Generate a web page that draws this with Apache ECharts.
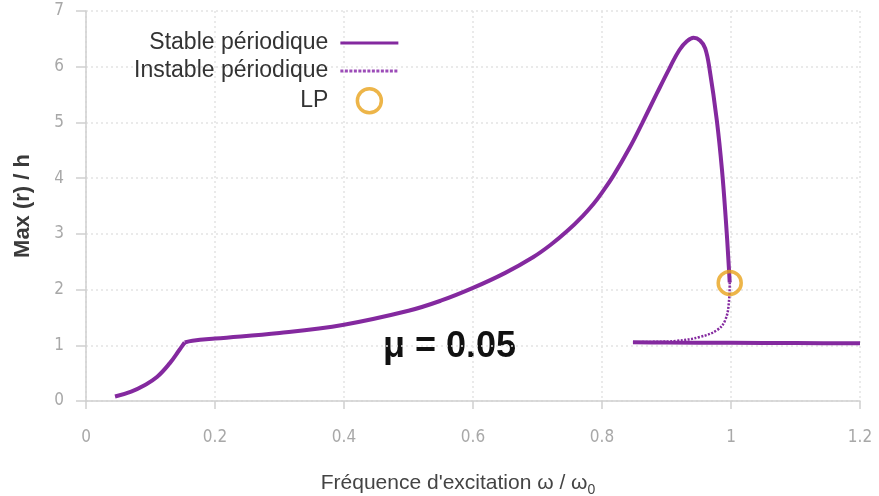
<!DOCTYPE html>
<html>
<head>
<meta charset="utf-8">
<script src="https://cdn.jsdelivr.net/npm/echarts@6/dist/echarts.min.js"></script>
<style>
  html, body { margin: 0; padding: 0; background: #fff; }
  #chart { width: 879px; height: 496px; }
</style>
</head>
<body>
<div id="chart"></div>
<script>
// Stable periodic branch, initial rise up to the kink
const stableRiseX = [0.045, 0.07, 0.09, 0.11, 0.13, 0.145, 0.153];
const stableRiseY = [0.08, 0.17, 0.28, 0.43, 0.68, 0.92, 1.05];

// Stable periodic branch, from the kink through the resonance peak to the fold
const stableUpperX = [0.153, 0.165, 0.2, 0.3, 0.4, 0.5, 0.55, 0.6, 0.65, 0.693, 0.72, 0.746, 0.77, 0.787, 0.8, 0.818, 0.843, 0.862, 0.885, 0.905, 0.92, 0.932, 0.942, 0.952, 0.96, 0.967, 0.978, 0.986, 0.992, 0.996, 0.998];
const stableUpperY = [1.05, 1.08, 1.12, 1.22, 1.37, 1.62, 1.8, 2.03, 2.3, 2.58, 2.8, 3.05, 3.32, 3.54, 3.74, 4.05, 4.55, 4.98, 5.52, 5.98, 6.3, 6.46, 6.52, 6.47, 6.33, 5.94, 5.04, 4.15, 3.25, 2.53, 2.13];

// Lower stable periodic branch
const stableLowerX = [0.848, 0.9, 1.0, 1.1, 1.2];
const stableLowerY = [1.055, 1.05, 1.045, 1.04, 1.035];

// Unstable periodic branch, from the limit point down to the lower branch
const unstableX = [0.998, 0.997, 0.991, 0.978, 0.952, 0.916, 0.874, 0.848];
const unstableY = [2.13, 1.81, 1.45, 1.27, 1.15, 1.08, 1.06, 1.055];

// Limit point (fold)
const lpX = [0.998];
const lpY = [2.12];

const xTicks = { min: 0, max: 1.2, interval: 0.2 };
const yTicks = { min: 0, max: 7, interval: 1 };

const muLabel = 'μ = 0.05';
const names = ['Stable périodique', 'Instable périodique', 'LP'];

const zip = (xs, ys) => xs.map((x, i) => [x, ys[i]]);

const purple = '#84299f';
const orange = '#e8a31c';
const FONT = 'Liberation Sans, Arial, Helvetica, sans-serif';
const NARROW = '"Liberation Sans Narrow", "DejaVu Sans Condensed", "Liberation Sans", sans-serif';

// Legend key shapes in a 58 x 24 box (corner points keep the box size)
const KEY_W = 58, KEY_H = 24;
const corners = `M0,0L0.1,0M${KEY_W},${KEY_H}L${KEY_W - 0.1},${KEY_H}`;
const solidKey = `path://${corners}M0,10.5H${KEY_W}V13.5H0Z`;
let dots = '';
for (let x = 0; x + 3 <= KEY_W; x += 4.5) dots += `M${x},10.5h3v3h-3Z`;
const dottedKey = `path://${corners}${dots}`;

const chart = echarts.init(document.getElementById('chart'), null, { renderer: 'canvas' });

const stableLine = { color: purple, width: 4 };

chart.setOption({
  backgroundColor: '#ffffff',
  animation: false,
  grid: { left: 86, right: 19, top: 11, bottom: 95, containLabel: false, outerBoundsMode: 'none' },
  legend: {
    orient: 'vertical',
    left: 134,
    top: 31,
    padding: 0,
    align: 'right',
    itemWidth: KEY_W,
    itemHeight: KEY_H,
    itemGap: 4,
    selectedMode: false,
    textStyle: { fontFamily: FONT, fontSize: 23, color: '#333', padding: [0, 7, 0, 0] },
    data: [
      { name: names[0], icon: solidKey, itemStyle: { color: purple } },
      { name: names[1], icon: dottedKey, itemStyle: { color: '#9c4cb8' } },
      { name: names[2], itemStyle: { color: 'rgba(0,0,0,0)', borderColor: orange, borderWidth: 3.5 } }
    ]
  },
  xAxis: {
    type: 'value',
    min: xTicks.min, max: xTicks.max, interval: xTicks.interval,
    name: '{m|Fréquence d\'excitation ω / ω}{s|0}',
    nameLocation: 'middle',
    nameGap: 68,
    nameTextStyle: {
      padding: [0, 30, 0, 0],
      rich: {
        m: { fontFamily: FONT, fontSize: 21, color: '#444', lineHeight: 28, verticalAlign: 'middle' },
        s: { fontFamily: FONT, fontSize: 14, color: '#444', lineHeight: 28, verticalAlign: 'bottom', padding: [12, 0, 0, 0] }
      }
    },
    axisLine: { show: true, onZero: false, lineStyle: { color: '#cfcfcf', width: 1.5 } },
    axisTick: { show: true, inside: false, length: 8, lineStyle: { color: '#cfcfcf', width: 1.5 } },
    axisLabel: { fontFamily: NARROW, fontSize: 17, color: '#a8a8a8', margin: 28 },
    splitLine: { show: true, lineStyle: { color: '#e4e4e4', type: [2, 3], width: 1.5 } }
  },
  yAxis: {
    type: 'value',
    min: yTicks.min, max: yTicks.max, interval: yTicks.interval,
    name: 'Max (r) / h',
    nameLocation: 'middle',
    nameGap: 52,
    nameTextStyle: { fontFamily: FONT, fontSize: 22, fontWeight: 'bold', color: '#3a3a3a' },
    axisLine: { show: true, onZero: false, lineStyle: { color: '#cfcfcf', width: 1.5 } },
    axisTick: { show: true, inside: false, length: 10, lineStyle: { color: '#cfcfcf', width: 1.5 } },
    axisLabel: { fontFamily: NARROW, fontSize: 17, color: '#a8a8a8', margin: 22 },
    splitLine: { show: true, lineStyle: { color: '#e4e4e4', type: [2, 3], width: 1.5 } }
  },
  graphic: [
    {
      type: 'text',
      left: 383, top: 329,
      style: { text: muLabel, font: 'bold 36px ' + FONT, fill: '#111' }
    }
  ],
  series: [
    {
      name: names[0],
      type: 'line',
      data: zip(stableRiseX, stableRiseY),
      smooth: 0.4,
      showSymbol: false,
      symbol: 'none',
      lineStyle: stableLine,
      itemStyle: { color: purple },
      z: 3
    },
    {
      name: names[0],
      type: 'line',
      data: zip(stableUpperX, stableUpperY),
      smooth: 0.4,
      showSymbol: false,
      symbol: 'none',
      lineStyle: stableLine,
      itemStyle: { color: purple },
      z: 3
    },
    {
      name: names[0],
      type: 'line',
      data: zip(stableLowerX, stableLowerY),
      smooth: 0.3,
      showSymbol: false,
      symbol: 'none',
      lineStyle: stableLine,
      itemStyle: { color: purple },
      z: 3
    },
    {
      name: names[1],
      type: 'line',
      data: zip(unstableX, unstableY),
      smooth: 0.4,
      showSymbol: false,
      symbol: 'none',
      lineStyle: { color: purple, width: 2.5, type: [2, 1.5] },
      itemStyle: { color: purple },
      z: 2
    },
    {
      name: names[2],
      type: 'scatter',
      data: zip(lpX, lpY),
      symbol: 'circle',
      symbolSize: 23,
      itemStyle: { color: 'rgba(0,0,0,0)', borderColor: orange, borderWidth: 3.5 },
      z: 4
    }
  ]
});
</script>
</body>
</html>
